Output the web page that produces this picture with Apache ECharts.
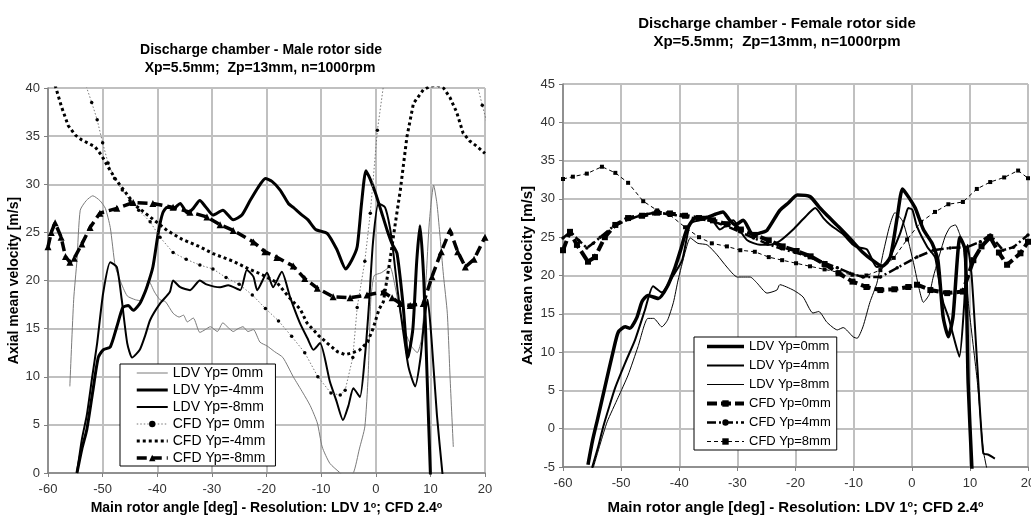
<!DOCTYPE html>
<html>
<head>
<meta charset="utf-8">
<script src="https://cdn.jsdelivr.net/npm/echarts@6/dist/echarts.min.js"></script>
<style>
  html, body { margin: 0; padding: 0; background: #fff; }
  #chart { width: 1031px; height: 516px; }
</style>
</head>
<body>
<div id="chart"></div>
<script>
  const FONT = '"Liberation Sans", Arial, sans-serif'

  // ---- Male rotor side (left) ----
  const maleLdv0 = [[-56,9],[-55.3,18],[-54.7,22.1],[-54.1,27.3],[-53,28.3],[-51.8,28.8],[-50.5,28.3],[-49.5,27.5],[-48.6,25.5],[-47.7,21.5],[-46.8,20],[-45.5,18.4],[-44,18],[-43,17.9],[-42.2,19],[-41.6,20],[-40.5,18.8],[-39.5,18],[-38.5,17.8],[-37.1,16.6],[-36,16.2],[-35.2,16.4],[-34.5,15.7],[-33.4,16.1],[-32.2,14.6],[-31.2,14.9],[-30.3,15.2],[-29,14.7],[-28,15.6],[-27,15.1],[-26.1,14.7],[-25.2,15],[-24.3,15.2],[-23.4,14.7],[-22.4,14.9],[-21.2,13.6],[-19.9,13.2],[-18.5,12.6],[-17,12],[-15.1,10],[-13.3,8.3],[-12,7],[-10.7,5.2],[-9.8,2.7],[-8.4,1],[-6.5,0],[-5.5,-0.5],[-4.1,0],[-3,2.5],[-2,4.8],[-1.4,10],[-0.9,18],[-0.3,20.5],[1,20.8],[2.6,21.4],[3.5,19.5],[4.5,16.6],[5.5,14.5],[6.5,13.2],[7.6,12.5],[8.4,14],[9.2,20],[9.8,26],[10.6,29.9],[11.2,28],[11.7,25],[12.4,20.5],[13.1,16.6],[13.6,10],[14.2,2.7]]
  const maleLdv4 = [[-54.7,0],[-53.8,2.5],[-52.9,4.5],[-51.8,8.5],[-50.8,12],[-49.9,12.8],[-48.6,13.1],[-47.4,15.2],[-46.3,17.2],[-45.3,17.4],[-44.4,16.9],[-43.2,17.6],[-42.6,18.3],[-41.9,19.3],[-40.8,21.4],[-39.8,25],[-39,27],[-38.2,27.6],[-37,27.5],[-35.8,28],[-34.5,27],[-33.4,27.5],[-32.2,28.3],[-31.2,27.7],[-29.8,26.8],[-28,27.3],[-26.1,26.3],[-24.5,26.8],[-23,28.3],[-21.5,29.7],[-20.2,30.6],[-19,30.3],[-17.5,29.4],[-16,28],[-15.1,27.6],[-13.5,26.8],[-12.4,26.3],[-11,25.3],[-8.9,24.9],[-7.1,23.2],[-5.5,21.2],[-4.4,22.1],[-3.4,23.5],[-2.6,28],[-1.8,31.4],[-1,30.5],[0,29],[1,27.2],[2.1,25.2],[3,23.8],[3.9,22.8],[5,17.5],[5.9,12],[6.8,15],[7.5,22],[8.1,25.7],[8.8,20],[9.4,10],[10,0],[10.2,-2]]
  const maleLdv8 = [[-54.7,0],[-53.8,3.5],[-52.9,6],[-51.9,10],[-51,13.5],[-49.9,18.7],[-48.6,21.9],[-47.4,21.4],[-46.5,18],[-45.5,13.5],[-44.6,12],[-43.2,12.8],[-42.2,14.3],[-41.3,15.9],[-39.5,17.6],[-37.7,18.8],[-37.1,20],[-35.8,19.3],[-34,19],[-32.2,20],[-31,19.6],[-28.5,19.3],[-27,19.5],[-24.8,19],[-23.6,21.1],[-22.4,20.4],[-21.7,19],[-19.9,20.8],[-18.8,19.3],[-17.2,20.9],[-15.7,18.3],[-13.9,15.6],[-12.5,14],[-11.4,12.8],[-10.2,13.5],[-8.4,9.5],[-7.2,7.5],[-6,5.5],[-5,7],[-4.1,8.8],[-2.9,7.9],[-2,12],[-1.3,17],[-0.5,24],[0.5,28],[1.7,27.6],[2.6,25.5],[3.2,23],[4,19],[5,14.8],[6,11],[7.2,9],[8.2,12],[8.9,16],[9.5,18],[10.2,14],[11.2,6],[12.2,0],[12.4,-1]]
  const maleCfd0 = [[-53.2,40.5],[-52,38.5],[-51,36.7],[-50,34.3],[-49,32.2],[-47.8,30.6],[-46.4,29.4],[-45,28.3],[-43.4,27.3],[-41.3,26.1],[-39.5,24.5],[-37.1,22.9],[-34.7,22.2],[-32.2,21.6],[-29.8,21.2],[-27.4,20.3],[-25,19.6],[-22.6,18.5],[-20.2,17.1],[-17.8,15.8],[-15.4,14.2],[-13,12.5],[-10.6,10],[-8.2,8.3],[-6.5,8.1],[-5.6,8.6],[-4.2,12],[-3.4,17.2],[-2,22],[-1,27],[0.3,35.6],[1.4,40.2],[3,46],[17,46],[18.6,40.3],[19.5,38.2],[20.4,36.3]]
  const maleCfd4 = [[-58.7,40.3],[-57.5,38],[-56.3,36.1],[-55,35.1],[-53.8,34.6],[-51.4,33.9],[-50.2,33],[-49,31.8],[-47.6,30.5],[-46.4,29.6],[-44,27.8],[-41.3,26.6],[-38.2,25.2],[-35.5,24.3],[-32.2,23.5],[-29.8,22.8],[-26.1,22],[-23.6,21.3],[-20.8,20.6],[-18.1,19.8],[-15.8,18.2],[-13.8,17],[-12.6,15.6],[-10.5,14.3],[-8.9,13.5],[-7,12.6],[-5.6,12.3],[-4.2,12.5],[-2.9,12.8],[-1.5,13.6],[-0.5,15],[0.6,17],[1.4,17.8],[2.6,22.1],[3.6,26],[4.5,29.4],[5.7,34.9],[6.9,38.4],[8.7,39.8],[10,40.2],[11.2,40.3],[12.4,40],[13.6,39],[14.8,37.5],[16,35.3],[17.2,34.5],[18.6,33.9],[20,33.2]]
  const maleCfd8 = [[-60,23.5],[-59.4,25],[-58.7,26],[-57.6,24.5],[-56.8,22.5],[-56,21.9],[-55.2,22.3],[-53.8,23.8],[-52.3,25.5],[-50.5,27],[-47.4,27.5],[-44.4,28.1],[-40.8,28],[-37.1,27.6],[-34,27.1],[-30.9,26.6],[-28.5,25.8],[-26.1,25.2],[-22.4,24],[-20.3,23],[-18.1,22.4],[-15.1,21.5],[-13,20.2],[-10.7,19.2],[-7.8,18.3],[-4.7,18.2],[-1.6,18.5],[1.4,18.8],[3,18.2],[4.5,17.6],[6.3,17.4],[8.7,17.6],[10.3,20.4],[12,23],[13.6,25.2],[15,23],[16.4,21.4],[18,22.2],[20,24.5]]

  // ---- Female rotor side (right) ----
  const femLdv0 = [[-55.7,-4.7],[-54.9,-1.5],[-54.1,1.1],[-52.8,5.4],[-51.4,10],[-50.5,12.6],[-49.3,13.3],[-48.5,13.1],[-47.3,14.5],[-46.4,16.6],[-45.4,17.4],[-43.6,17],[-42.1,18.5],[-40.7,21.1],[-39.7,23.5],[-38.7,26],[-37.3,27.5],[-35.2,27.6],[-33.8,28],[-32.5,28.3],[-31.4,27.3],[-30.4,26.6],[-29,27.2],[-27.3,25.3],[-25.9,25.6],[-24.9,25.9],[-22.7,28.5],[-21.2,29.5],[-19.7,30.5],[-17.5,30.3],[-16,29],[-14.5,27.8],[-12.5,26.3],[-10.6,24.8],[-8.4,23],[-6.6,21.9],[-5.1,21.2],[-3.7,22.4],[-2.5,27.6],[-1.6,31.3],[-0.6,30.3],[0.6,28.8],[2,26],[3.5,24.2],[4.5,22],[5.4,14.6],[6.3,12],[7.1,14.6],[8.3,25],[9.2,23.3],[9.7,6],[10.4,-6]]
  const femLdv4 = [[-55,-5.1],[-54,-2.5],[-53.1,0.2],[-52,3],[-51,5.4],[-49.3,8.6],[-47.6,11.6],[-45.9,15.5],[-44.5,18.6],[-43,17.8],[-41.2,19.8],[-39.5,22],[-38.1,26.8],[-36.5,27.2],[-34.7,27.5],[-33,26],[-30.7,27.2],[-29.5,25.8],[-28.3,24.6],[-26.1,24],[-24.4,24],[-22.7,24.5],[-20.4,26],[-18.5,27.5],[-16.6,28.8],[-15.2,27.5],[-14,26.6],[-12,25.5],[-10.1,24],[-9.4,23.7],[-7.7,23.4],[-6,21.1],[-4.2,21.6],[-3.2,23.3],[-2,25.5],[-1.1,27.7],[-0.6,28.8],[0.1,28.6],[0.9,26.4],[2.7,23.7],[4,22.4],[4.6,19.8],[5.4,16.5],[6.3,14.6],[7.2,12],[8.2,9.4],[9,16],[9.6,24],[10.3,20],[11.3,8],[12.3,-3.2],[13.2,-3.4],[14.3,-3.9]]
  const femLdv8 = [[-54.8,-5.1],[-53.6,-2],[-52.4,0.9],[-50.5,4.1],[-48.8,7],[-47.1,10.7],[-45.4,14.4],[-44.4,14.4],[-43,13.3],[-42,14.2],[-41,16.5],[-40.2,19.4],[-39,23],[-38.1,24.9],[-36.8,24.2],[-35.2,24],[-33.5,22.7],[-31.8,21.1],[-30,19.8],[-27.8,19.8],[-26.6,19],[-24.9,17.7],[-23.2,18.1],[-22.7,18.8],[-20.4,18.1],[-18.7,17.2],[-17,15.1],[-16,15.3],[-14.6,13.9],[-12.8,12.9],[-11.8,13.2],[-10.1,12],[-9.4,11.8],[-8.4,13.3],[-7.2,16.5],[-6,19],[-4.9,23],[-3.8,26.5],[-2.9,28.2],[-1.5,27],[0.2,22],[1.2,18.5],[2,16.5],[3,17.5],[3.7,19.8],[5.7,25],[6.6,26.3],[7.5,26.6],[8.2,25.5],[8.8,24.2],[9.8,16],[11.3,6],[12.3,-2.8],[13,-5.5]]
  const femCfd0 = [[-60,23.3],[-58.8,25.7],[-57.6,24],[-55.7,21.8],[-54.5,22.4],[-52.8,25],[-51,26.6],[-48.8,27.5],[-46.4,27.8],[-43.8,28.2],[-41.6,28.1],[-39,27.8],[-36.6,27.5],[-34.2,27.2],[-31.8,26.7],[-29.4,26],[-27,25.3],[-24.6,24.6],[-22.2,23.8],[-19.8,23.2],[-17.4,22.5],[-15,21.5],[-12.6,20.3],[-10.2,19.2],[-7.8,18.5],[-5.4,18.1],[-3,18.2],[-0.6,18.5],[0.9,18.8],[3.2,18.1],[6.1,17.7],[8.8,17.9],[10.6,22],[12,23.8],[13.5,25],[15,23],[16.4,21.4],[18.7,22.9],[20,24.4]]
  const femCfd4 = [[-60,24.9],[-58.7,25.7],[-57.3,24.6],[-55.9,23.6],[-54.8,24.2],[-53.6,25],[-51.2,26.5],[-48.8,27.3],[-46.4,27.9],[-44,28.2],[-41.6,28],[-39.2,27.7],[-36.8,27.4],[-34.4,27.1],[-32,26.5],[-29.6,25.7],[-27.2,24.9],[-24.8,24.1],[-22.4,23.5],[-20,23],[-17.6,22.4],[-15.2,21.7],[-12.8,21],[-10.6,20.3],[-8.4,19.8],[-5.4,19.8],[-2.5,21],[0.9,22.4],[3.7,23.3],[6.6,23.6],[9.5,23.7],[11.8,24.4],[13.5,25.3],[15.7,23.3],[17.5,23.7],[20,25.3]]
  const femCfd8 = [[-60,32.6],[-58.3,32.9],[-55.9,33.3],[-53.3,34.2],[-51,33.4],[-48.8,32.1],[-46.2,29.7],[-43.8,28.5],[-41.6,27.9],[-39,26.3],[-36.6,25],[-34.4,24.2],[-31.8,23.8],[-29.5,23.3],[-27,23.1],[-24.6,22.4],[-22.3,22],[-19.9,21.6],[-17.5,21.2],[-15,20.8],[-12.6,20.4],[-10.2,20.1],[-7.8,20],[-5.4,20.7],[-3.1,22.3],[-0.8,24.7],[1.6,27],[4,28.3],[6.3,29.3],[8.8,29.6],[11.2,31.3],[13.5,32.2],[15.9,32.8],[18.3,33.7],[20,32.7]]

  const maleNames = ['LDV Yp= 0mm', 'LDV Yp=-4mm', 'LDV Yp=-8mm', 'CFD Yp= 0mm', 'CFD Yp=-4mm', 'CFD Yp=-8mm']
  const femNames = ['LDV Yp=0mm', 'LDV Yp=4mm', 'LDV Yp=8mm', 'CFD Yp=0mm', 'CFD Yp=4mm', 'CFD Yp=8mm']

  // line look of every series, reused by the legends
  const looks = {
    'LDV Yp= 0mm': { color: '#7a7a7a', width: 1, smooth: 0.2 },
    'LDV Yp=-4mm': { color: '#000', width: 3, smooth: 0.2 },
    'LDV Yp=-8mm': { color: '#000', width: 2, smooth: 0.2 },
    'CFD Yp= 0mm': { color: '#777', width: 1, type: [1.5, 2], symbol: 'circle', size: 3.5, mcolor: '#000' },
    'CFD Yp=-4mm': { color: '#000', width: 3, type: [3, 3] },
    'CFD Yp=-8mm': { color: '#000', width: 3.5, type: [10, 5], symbol: 'triangle', size: 7 },
    'LDV Yp=0mm': { color: '#000', width: 3.5, smooth: 0.2 },
    'LDV Yp=4mm': { color: '#000', width: 2, smooth: 0.2 },
    'LDV Yp=8mm': { color: '#000', width: 1, smooth: 0.2 },
    'CFD Yp=0mm': { color: '#000', width: 4, type: [10, 4], symbol: 'rect', size: 6 },
    'CFD Yp=4mm': { color: '#000', width: 2.5, type: [9, 3, 2, 3], symbol: 'circle', size: 3.5 },
    'CFD Yp=8mm': { color: '#000', width: 1, type: [4, 3], symbol: 'rect', size: 4 }
  }

  const ser = (name, data, idx) => {
    const o = looks[name]
    return {
      name: name,
      type: 'line',
      xAxisIndex: idx,
      yAxisIndex: idx,
      data: data,
      symbol: o.symbol || 'none',
      symbolSize: o.size || 4,
      showSymbol: !!o.symbol,
      smooth: o.smooth || 0,
      clip: true,
      animation: false,
      lineStyle: { color: o.color, width: o.width, type: o.type || 'solid' },
      itemStyle: { color: o.mcolor || o.color },
      emphasis: { disabled: true }
    }
  }

  const xAxisOf = (gi, fs) => ({
    type: 'value',
    gridIndex: gi,
    min: -60,
    max: 20,
    interval: 10,
    name: 'Main rotor angle [deg] - Resolution: LDV 1{s|o}; CFD 2.4{s|o}',
    nameLocation: 'middle',
    nameGap: gi === 0 ? 27 : 33,
    nameTextStyle: {
      fontFamily: FONT, fontWeight: 'bold', fontSize: fs, color: '#000',
      rich: { s: { fontFamily: FONT, fontWeight: 'bold', fontSize: 9, color: '#000', verticalAlign: 'top' } }
    },
    axisLine: { onZero: false, lineStyle: { color: '#808080', width: 1.5 } },
    axisTick: { show: true, length: 4, lineStyle: { color: '#808080' } },
    axisLabel: { fontFamily: FONT, fontSize: 13, color: '#333', margin: 10 },
    splitLine: { show: true, lineStyle: { color: '#c0c0c0', width: 2 } }
  })

  const yAxisOf = (gi, min, max, gap, fs) => ({
    type: 'value',
    gridIndex: gi,
    min: min,
    max: max,
    interval: 5,
    name: 'Axial mean velocity [m/s]',
    nameLocation: 'middle',
    nameGap: gap,
    nameTextStyle: { fontFamily: FONT, fontWeight: 'bold', fontSize: fs, color: '#000' },
    axisLine: { show: true, onZero: false, lineStyle: { color: '#808080', width: 1.5 } },
    axisTick: { show: true, length: 4, lineStyle: { color: '#808080' } },
    axisLabel: { fontFamily: FONT, fontSize: 13, color: '#333', margin: 8 },
    splitLine: { show: true, lineStyle: { color: '#c0c0c0', width: 2 } }
  })

  const legendOf = (names, left, top, fs, gap, iw, pad) => ({
    data: names.map((n) => ({
      name: n,
      lineStyle: { width: looks[n].width },
      // hide the legend marker for series drawn without markers
      itemStyle: looks[n].symbol ? {} : { opacity: 0 }
    })),
    orient: 'vertical',
    left: left,
    top: top,
    backgroundColor: '#fff',
    borderColor: '#000',
    borderWidth: 1,
    borderRadius: 0,
    padding: pad,
    itemGap: gap,
    itemWidth: iw,
    itemHeight: 8,
    selectedMode: false,
    textStyle: { fontFamily: FONT, fontSize: fs, lineHeight: fs, color: '#000' }
  })

  const chart = echarts.init(document.getElementById('chart'))
  const option = {
    backgroundColor: '#fff',
    animation: false,
    graphic: [
      { type: 'text', x: 261, y: 50, style: { text: 'Discharge chamber - Male rotor side', font: 'bold 14px ' + FONT, fill: '#000', align: 'center', verticalAlign: 'middle' } },
      { type: 'text', x: 260, y: 68, style: { text: 'Xp=5.5mm;  Zp=13mm, n=1000rpm', font: 'bold 14px ' + FONT, fill: '#000', align: 'center', verticalAlign: 'middle' } },
      { type: 'text', x: 777, y: 24, style: { text: 'Discharge chamber - Female rotor side', font: 'bold 15px ' + FONT, fill: '#000', align: 'center', verticalAlign: 'middle' } },
      { type: 'text', x: 777, y: 42, style: { text: 'Xp=5.5mm;  Zp=13mm, n=1000rpm', font: 'bold 15px ' + FONT, fill: '#000', align: 'center', verticalAlign: 'middle' } }
    ],
    grid: [
      { left: 48, top: 88, width: 437, height: 385, outerBoundsMode: 'none', containLabel: false },
      { left: 563, top: 84, width: 465, height: 383, outerBoundsMode: 'none', containLabel: false }
    ],
    xAxis: [xAxisOf(0, 14), xAxisOf(1, 15)],
    yAxis: [yAxisOf(0, 0, 40, 18, 14), yAxisOf(1, -5, 45, 28, 15)],
    legend: [
      legendOf(maleNames, 120, 364, 14, 3, 31, [2, 10, 1, 15]),
      legendOf(femNames, 694, 337, 13, 6, 37, [3, 6, 2, 11])
    ],
    series: [
      ser(maleNames[0], maleLdv0, 0),
      ser(maleNames[1], maleLdv4, 0),
      ser(maleNames[2], maleLdv8, 0),
      ser(maleNames[3], maleCfd0, 0),
      ser(maleNames[4], maleCfd4, 0),
      ser(maleNames[5], maleCfd8, 0),
      ser(femNames[0], femLdv0, 1),
      ser(femNames[1], femLdv4, 1),
      ser(femNames[2], femLdv8, 1),
      ser(femNames[3], femCfd0, 1),
      ser(femNames[4], femCfd4, 1),
      ser(femNames[5], femCfd8, 1)
    ]
  }
  chart.setOption(option)
  window.onresize = () => {
    chart.resize()
  }
</script>
</body>
</html>
